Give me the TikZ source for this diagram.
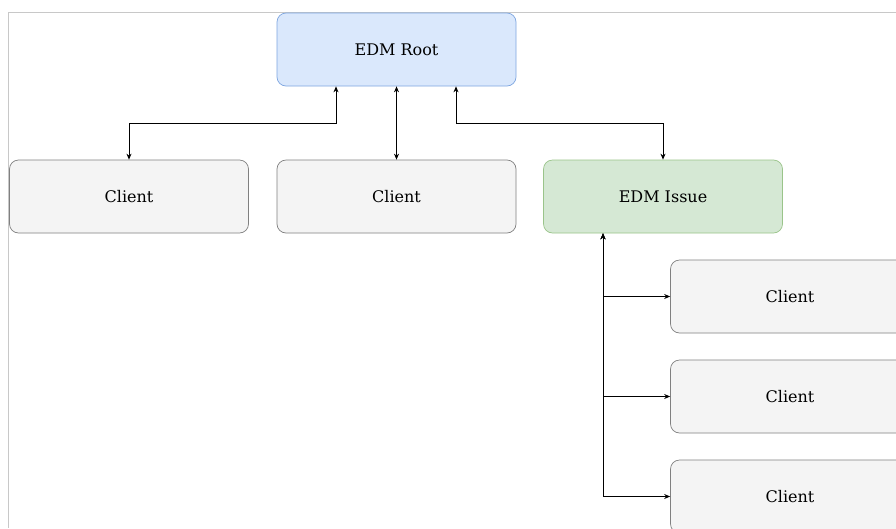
\documentclass[tikz,border=0pt]{standalone}
\usepackage{fontspec}
\setmainfont{DejaVu Serif}
\usetikzlibrary{arrows.meta}
\definecolor{rootfill}{HTML}{DAE8FC}
\definecolor{rootdraw}{HTML}{7EA6E0}
\definecolor{issuefill}{HTML}{D5E8D4}
\definecolor{issuedraw}{HTML}{9AC48A}
\definecolor{clientfill}{HTML}{F4F4F4}
\definecolor{clientdraw}{HTML}{808080}
\definecolor{framecol}{HTML}{C8C8C8}
\tikzset{
  box/.style={rectangle, rounded corners=9pt, minimum width=239pt, minimum height=73pt, line width=0.7pt, font=\fontsize{16}{19}\selectfont, inner sep=0pt},
  rootbox/.style={box, fill=rootfill, draw=rootdraw},
  issuebox/.style={box, fill=issuefill, draw=issuedraw},
  clientbox/.style={box, fill=clientfill, draw=clientdraw},
  conn/.style={line width=0.8pt, {Stealth[length=6pt,width=5pt]}-{Stealth[length=6pt,width=5pt]}},
  frameline/.style={draw=framecol, line width=0.8pt}
}
\begin{document}
\begin{tikzpicture}[x=1pt,y=-1pt]
\useasboundingbox (0,0) rectangle (896,528);
\fill[white] (0,0) rectangle (896,528);
\coordinate (ftop) at (896,12);
\coordinate (fcorner) at (8,12);
\coordinate (fbot) at (8,528);
\draw[frameline] (ftop) -- (fcorner) -- (fbot);

\node[rootbox] (root) at (396.5,49.5) {EDM Root};
\node[clientbox] (c1) at (129,196.5) {Client};
\node[clientbox] (c2) at (396.5,196.5) {Client};
\node[issuebox] (issue) at (663,196.5) {EDM Issue};
\node[clientbox] (c3) at (790,296.5) {Client};
\node[clientbox] (c4) at (790,396.5) {Client};
\node[clientbox] (c5) at (790,496.5) {Client};

\draw[conn] (c1.north) |- (336,123) -- (root.south -| 336,0);
\draw[conn] (root.south) -- (c2.north);
\draw[conn] (issue.north) |- (456,123) -- (root.south -| 456,0);
\draw[conn] (issue.south -| 603,0) |- (c3.west);
\draw[conn] (issue.south -| 603,0) |- (c4.west);
\draw[conn] (issue.south -| 603,0) |- (c5.west);
\end{tikzpicture}
\end{document}
